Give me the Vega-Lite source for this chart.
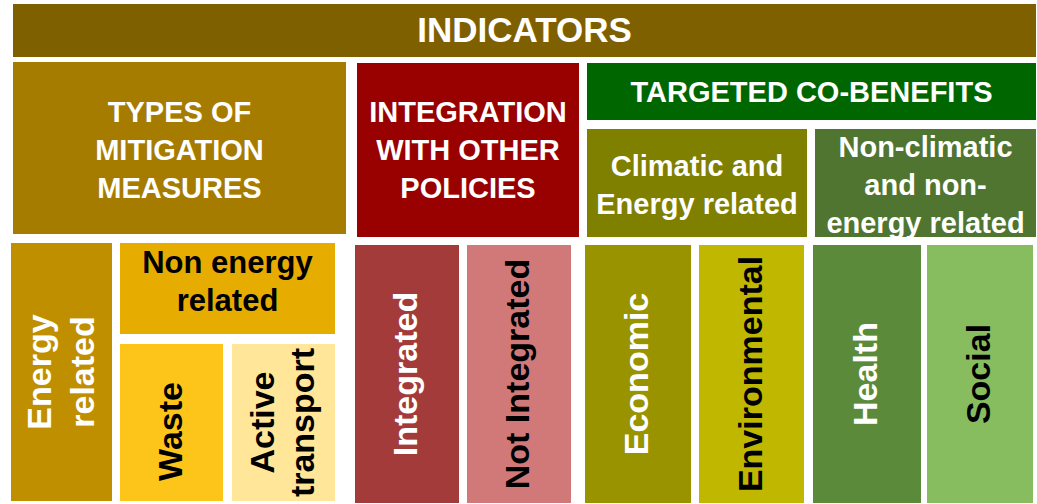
{
  "$schema": "https://vega.github.io/schema/vega-lite/v6.json",
  "width": 1037,
  "height": 504,
  "autosize": {"type": "fit", "contains": "padding"},
  "padding": 0,
  "background": "white",
  "config": {"view": {"stroke": null}, "text": {"font": "Liberation Sans", "fontWeight": "bold", "align": "center", "baseline": "middle"}},
  "data": {
    "values": [
      {"name": "Indicators", "label": "INDICATORS", "x": 13, "x2": 1036, "y": 4, "y2": 57},
      {"name": "Types", "label": ["TYPES OF", "MITIGATION", "MEASURES"], "x": 13, "x2": 346, "y": 62, "y2": 234},
      {"name": "Integration", "label": ["INTEGRATION", "WITH OTHER", "POLICIES"], "x": 357, "x2": 579, "y": 63, "y2": 237},
      {"name": "Targeted", "label": "TARGETED CO-BENEFITS", "x": 587, "x2": 1036, "y": 63, "y2": 120},
      {"name": "Climatic", "label": ["Climatic and", "Energy related"], "x": 587, "x2": 807, "y": 129, "y2": 237},
      {"name": "NonClimatic", "label": ["Non-climatic", "and non-", "energy related"], "x": 815, "x2": 1036, "y": 129, "y2": 237},
      {"name": "EnergyRelated", "label": ["Energy", "related"], "x": 11, "x2": 112, "y": 243, "y2": 501},
      {"name": "NonEnergy", "label": ["Non energy", "related"], "x": 120, "x2": 335, "y": 243, "y2": 334},
      {"name": "Waste", "label": "Waste", "x": 120, "x2": 223, "y": 344, "y2": 501},
      {"name": "ActiveTransport", "label": ["Active", "transport"], "x": 232, "x2": 335, "y": 344, "y2": 501},
      {"name": "Integrated", "label": "Integrated", "x": 355, "x2": 459, "y": 245, "y2": 503},
      {"name": "NotIntegrated", "label": "Not Integrated", "x": 467, "x2": 571, "y": 245, "y2": 503},
      {"name": "Economic", "label": "Economic", "x": 585, "x2": 691, "y": 245, "y2": 503},
      {"name": "Environmental", "label": "Environmental", "x": 699, "x2": 804, "y": 245, "y2": 503},
      {"name": "Health", "label": "Health", "x": 813, "x2": 921, "y": 245, "y2": 503},
      {"name": "Social", "label": "Social", "x": 927, "x2": 1033, "y": 245, "y2": 503}
    ]
  },
  "transform": [
    {"calculate": "(datum.x + datum.x2) / 2", "as": "cx"},
    {"calculate": "(datum.y + datum.y2) / 2", "as": "cy"}
  ],
  "encoding": {
    "x": {"field": "cx", "type": "quantitative", "scale": {"domain": [0, 1037], "nice": false, "zero": false}, "axis": null},
    "y": {"field": "cy", "type": "quantitative", "scale": {"domain": [0, 504], "nice": false, "zero": false, "reverse": true}, "axis": null},
    "text": {"field": "label", "type": "nominal"}
  },
  "layer": [
    {
      "mark": {"type": "rect"},
      "encoding": {
        "x": {"field": "x", "type": "quantitative", "scale": {"domain": [0, 1037], "nice": false, "zero": false}, "axis": null},
        "x2": {"field": "x2"},
        "y": {"field": "y", "type": "quantitative", "scale": {"domain": [0, 504], "nice": false, "zero": false, "reverse": true}, "axis": null},
        "y2": {"field": "y2"},
        "text": null,
        "color": {
          "field": "name", "type": "nominal", "legend": null,
          "scale": {
            "domain": ["Indicators", "Types", "Integration", "Targeted", "Climatic", "NonClimatic", "EnergyRelated", "NonEnergy", "Waste", "ActiveTransport", "Integrated", "NotIntegrated", "Economic", "Environmental", "Health", "Social"],
            "range": ["#7F6000", "#A67C00", "#990000", "#006600", "#808000", "#4F7531", "#BF8F00", "#E6AD00", "#FDC419", "#FFE699", "#A43B3B", "#D17979", "#999300", "#C0B800", "#5B8B3A", "#88BD5F"]
          }
        }
      }
    },
    {
      "transform": [{"filter": {"field": "name", "oneOf": ["Indicators"]}}],
      "mark": {"type": "text", "fontSize": 35, "color": "white"}
    },
    {
      "transform": [{"filter": {"field": "name", "oneOf": ["Targeted"]}}],
      "mark": {"type": "text", "fontSize": 29, "dy": 1, "color": "white"}
    },
    {
      "transform": [{"filter": {"field": "name", "oneOf": ["Climatic"]}}],
      "mark": {"type": "text", "fontSize": 29, "lineHeight": 38, "dy": -16, "color": "white"}
    },
    {
      "transform": [{"filter": {"field": "name", "oneOf": ["Types", "NonClimatic"]}}],
      "mark": {"type": "text", "fontSize": 29, "lineHeight": 38, "dy": -35, "color": "white"}
    },
    {
      "transform": [{"filter": {"field": "name", "oneOf": ["Integration"]}}],
      "mark": {"type": "text", "fontSize": 29, "lineHeight": 38, "dy": -37, "color": "white"}
    },
    {
      "transform": [{"filter": {"field": "name", "oneOf": ["NonEnergy"]}}],
      "mark": {"type": "text", "fontSize": 31, "lineHeight": 38, "dy": -25, "color": "black"}
    },
    {
      "transform": [{"filter": {"field": "name", "oneOf": ["EnergyRelated"]}}],
      "mark": {"type": "text", "fontSize": 34, "lineHeight": 43, "dy": -21, "angle": 270, "color": "white"}
    },
    {
      "transform": [{"filter": {"field": "name", "oneOf": ["Integrated", "Economic", "Health"]}}],
      "mark": {"type": "text", "fontSize": 34, "angle": 270, "color": "white"}
    },
    {
      "transform": [{"filter": {"field": "name", "oneOf": ["ActiveTransport"]}}],
      "mark": {"type": "text", "fontSize": 34, "lineHeight": 40, "dy": -20, "angle": 270, "color": "black"}
    },
    {
      "transform": [{"filter": {"field": "name", "oneOf": ["Waste"]}}],
      "mark": {"type": "text", "fontSize": 34, "dx": -9, "angle": 270, "color": "black"}
    },
    {
      "transform": [{"filter": {"field": "name", "oneOf": ["NotIntegrated", "Environmental", "Social"]}}],
      "mark": {"type": "text", "fontSize": 34, "angle": 270, "color": "black"}
    }
  ]
}
